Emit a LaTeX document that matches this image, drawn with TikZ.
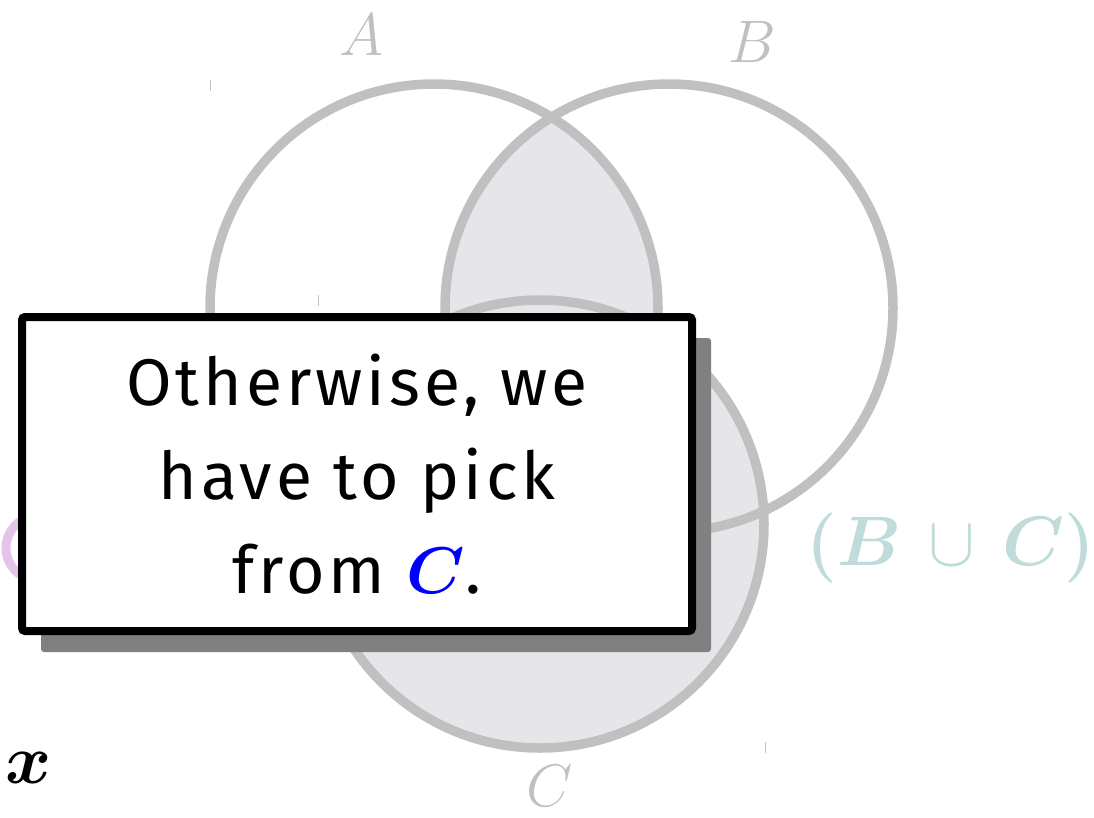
\RequirePackage{fix-cm}
\documentclass[tikz,border=0pt]{standalone}
\usepackage{fontspec}
\usepackage{amsmath,amssymb,bm}
\usetikzlibrary{shadows}
\newfontfamily\notefont[LetterSpace=6]{Fira Sans}
\definecolor{ringgray}{HTML}{C0C0C0}
\definecolor{regionfill}{HTML}{E6E6EA}
\definecolor{uniontint}{HTML}{BFDCDA}
\definecolor{pinkring}{HTML}{E4C4E8}
\definecolor{shadowgray}{HTML}{808080}
\begin{document}
\begin{tikzpicture}[x=1pt, y=-1pt,
    ring/.style={draw=ringgray, line width=9.5pt},
    setlabel/.style={text=ringgray, inner sep=0pt, font=\fontsize{60}{60}\selectfont},
    notebox/.style={draw=black, fill=white, line width=8pt, rounded corners=3pt,
      minimum width=670pt, minimum height=314pt, align=center,
      font=\notefont\fontsize{66}{94}\selectfont,
      drop shadow={shadow xshift=19pt, shadow yshift=-21pt, fill=shadowgray, opacity=1}}]
  \useasboundingbox (0,0) rectangle (1094,817);
  \def\R{224}
  \coordinate (ca) at (434,308);
  \coordinate (cb) at (669,308);
  \coordinate (cc) at (540,524);
  % shaded part
  \fill[regionfill] (cc) circle [radius=\R];
  \begin{scope}
    \clip (ca) circle [radius=\R];
    \fill[regionfill] (cb) circle [radius=\R];
  \end{scope}
  \draw[ring] (ca) circle [radius=\R];
  \draw[ring] (cb) circle [radius=\R];
  \draw[ring] (cc) circle [radius=\R];
  \draw[draw=pinkring, line width=9pt] (38,548) circle [radius=32];
  % stray ticks
  \draw[ringgray, line width=1pt] (210,80) -- (210,91);
  \draw[ringgray, line width=1pt] (318,295) -- (318,306);
  \draw[ringgray, line width=1pt] (765,742) -- (765,753);
  % labels
  \node[setlabel] (la) at (362,35) {$A$};
  \node[setlabel] (lb) at (752,42) {$B$};
  \node[setlabel] (lc) at (550,786) {$C$};
  \node[text=uniontint, font=\fontsize{70}{70}\selectfont] (bc) at (951,548)
    {$\bm{(B}\mathbin{\,\cup\,}\bm{C)}$};
  \node[font=\fontsize{70}{70}\selectfont] (x) at (29,768) {$\bm{x}$};
  \node[notebox] (note) at (357,474)
    {Otherwise, we\\ have to pick\\ from \textcolor{blue}{$\bm{C}$}.};
\end{tikzpicture}
\end{document}
